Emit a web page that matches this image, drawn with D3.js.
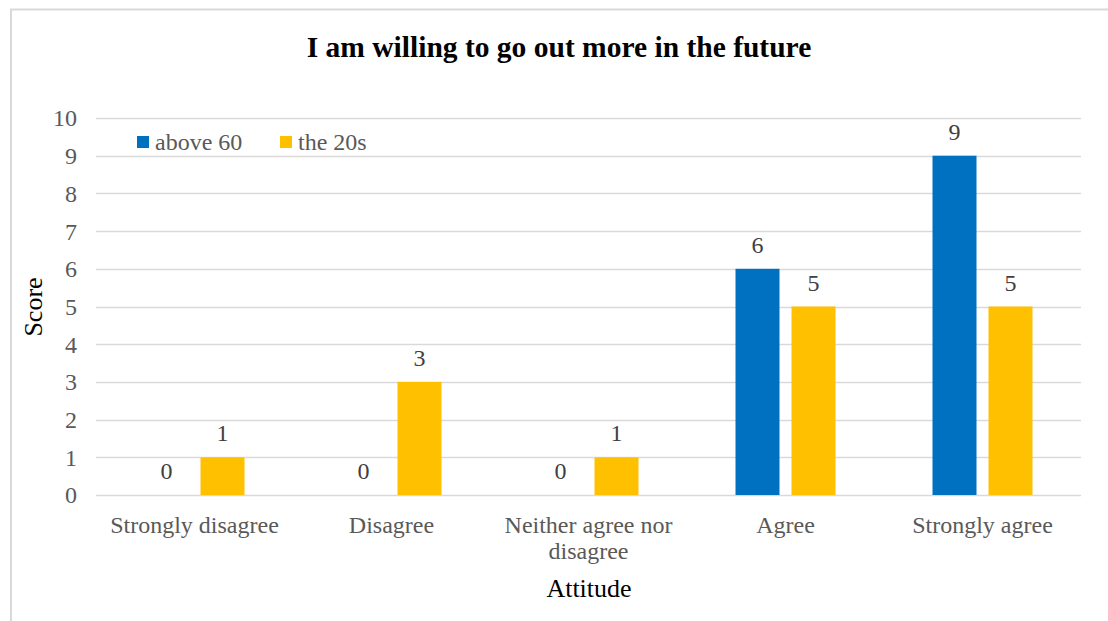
<!DOCTYPE html>
<html><head><meta charset="utf-8">
<script src="https://cdn.jsdelivr.net/npm/d3@7"></script>
<style>body{margin:0;background:#fff}svg{display:block}</style>
</head><body>
<script>
const categories = ["Strongly disagree", "Disagree", "Neither agree nor disagree", "Agree", "Strongly agree"];
const seriesNames = ["above 60", "the 20s"];
const above60 = [0, 0, 0, 6, 9];
const the20s = [1, 3, 1, 5, 5];
const yTicks = [0,1,2,3,4,5,6,7,8,9,10];
const colors = ["#0070C0", "#FFC000"];

const W = 1108, H = 621;
const svg = d3.select("body").append("svg").attr("width", W).attr("height", H);
const font = "'Liberation Serif','Times New Roman',serif";

svg.append("rect").attr("x", 11).attr("y", 9.5).attr("width", W).attr("height", H)
  .attr("fill", "#fff").attr("stroke", "#d9d9d9").attr("stroke-width", 2);

const m = {left: 96, right: 1081, top: 118, bottom: 495};
const x = d3.scaleBand().domain(categories).range([m.left, m.right]);
const y = d3.scaleLinear().domain([0, 10]).range([m.bottom, m.top]);
const sub = d3.scaleBand().domain(seriesNames).range([-50, 50]).paddingInner(12 / 56);

// gridlines
svg.append("g").selectAll("line").data(yTicks).join("line")
  .attr("x1", m.left).attr("x2", m.right)
  .attr("y1", d => Math.round(y(d)) + 0.5).attr("y2", d => Math.round(y(d)) + 0.5)
  .attr("stroke", "#d9d9d9").attr("stroke-width", 1.5);

// y axis labels
const yAxis = d3.axisLeft(y).tickValues(yTicks).tickSize(0).tickPadding(0);
const gy = svg.append("g").attr("transform", `translate(77,0)`).call(yAxis);
gy.select(".domain").remove();
gy.selectAll("text").attr("font-family", font).attr("font-size", 24).attr("fill", "#595959").attr("dy", "0.33em");

const data = [above60, the20s];
data.forEach((vals, si) => {
  const g = svg.append("g");
  g.selectAll("rect").data(vals).join("rect")
    .attr("x", (d, i) => x(categories[i]) + x.bandwidth() / 2 + sub(seriesNames[si]))
    .attr("width", sub.bandwidth())
    .attr("y", d => y(d)).attr("height", d => y(0) - y(d))
    .attr("fill", colors[si]);
  g.selectAll("text").data(vals).join("text")
    .attr("x", (d, i) => x(categories[i]) + x.bandwidth() / 2 + sub(seriesNames[si]) + sub.bandwidth() / 2)
    .attr("y", d => y(d) - 16)
    .attr("text-anchor", "middle").attr("font-family", font).attr("font-size", 24).attr("fill", "#404040")
    .text(d => d);
});

// x axis labels
const xl = svg.append("g");
const wrapMap = {"Neither agree nor disagree": ["Neither agree nor", "disagree"]};
categories.forEach(c => {
  const lines = wrapMap[c] || [c];
  const t = xl.append("text").attr("x", x(c) + x.bandwidth() / 2).attr("y", 533)
    .attr("text-anchor", "middle").attr("font-family", font).attr("font-size", 24).attr("fill", "#595959");
  lines.forEach((l, i) => t.append("tspan").attr("x", x(c) + x.bandwidth() / 2).attr("dy", i ? 26 : 0).text(l));
});

// title
svg.append("text").attr("x", 559).attr("y", 57).attr("text-anchor", "middle")
  .attr("font-family", font).attr("font-size", 29.5).attr("font-weight", "bold").attr("fill", "#000")
  .text("I am willing to go out more in the future");

// axis titles
svg.append("text").attr("x", 589).attr("y", 597).attr("text-anchor", "middle")
  .attr("font-family", font).attr("font-size", 26).attr("fill", "#000").text("Attitude");
svg.append("text").attr("transform", "translate(42,307) rotate(-90)").attr("text-anchor", "middle")
  .attr("font-family", font).attr("font-size", 26).attr("fill", "#000").text("Score");

// legend
const legX = [137, 280];
seriesNames.forEach((s, i) => {
  svg.append("rect").attr("x", legX[i]).attr("y", 136).attr("width", 12).attr("height", 12).attr("fill", colors[i]);
  svg.append("text").attr("x", legX[i] + 18).attr("y", 150).attr("font-family", font).attr("font-size", 24)
    .attr("fill", "#595959").text(s);
});
</script>
</body></html>
